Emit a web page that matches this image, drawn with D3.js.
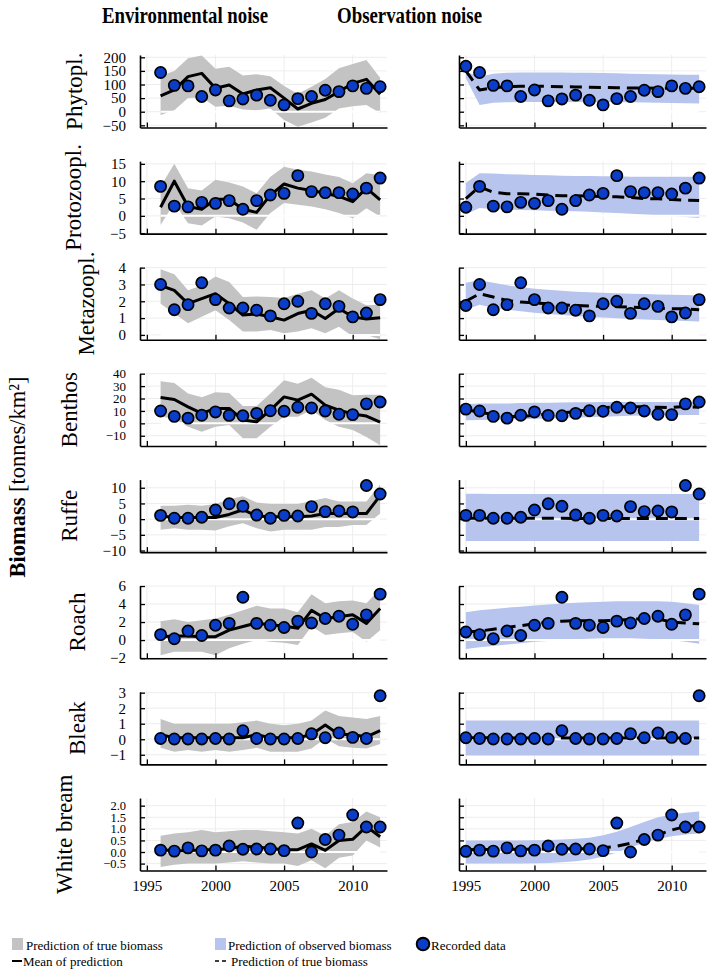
<!DOCTYPE html>
<html>
<head>
<meta charset="utf-8">
<script src="https://cdn.jsdelivr.net/npm/d3@7"></script>
<style>
  body { margin: 0; background: #fff; }
  text { font-family: "Liberation Serif", "Times New Roman", serif; fill: #000; }
</style>
</head>
<body>
<script>
const W = 709, H = 972;

// ---- data ----
const species = ["Phytopl.", "Protozoopl.", "Metazoopl.", "Benthos", "Ruffe", "Roach", "Bleak", "White bream"];
const yearsObs = [1995, 1996, 1997, 1998, 1999, 2000, 2001, 2002, 2003, 2004, 2005, 2006, 2007, 2008, 2009, 2010, 2011, 2012];
const yearsEnv = [1996, 1997, 1998, 1999, 2000, 2001, 2002, 2003, 2004, 2005, 2006, 2007, 2008, 2009, 2010, 2011, 2012];
const xTicks = [1995, 2000, 2005, 2010];

const yDomains = [[-58, 208.5], [-5.13, 15.78], [-0.29, 4.02], [-18.2, 40.2], [-10.5, 12.6], [-2.02, 6.03], [-1.62, 3.05], [-0.8, 2.33]];
const yTicks = [
  [-50, 0, 50, 100, 150, 200],
  [-5, 0, 5, 10, 15],
  [0, 1, 2, 3, 4],
  [-10, 0, 10, 20, 30, 40],
  [-10, -5, 0, 5, 10],
  [-2, 0, 2, 4, 6],
  [-1, 0, 1, 2, 3],
  [-0.5, 0.0, 0.5, 1.0, 1.5, 2.0]
];

// recorded data, 1995-2012
const recorded = [
  [167, 144, 97, 95, 56, 80, 40, 47, 61, 42, 25, 48, 56, 79, 74, 95, 86, 92],
  [2.5, 8.5, 2.8, 2.6, 3.9, 3.6, 4.4, 1.9, 4.4, 6.0, 6.5, 11.6, 7.0, 6.7, 6.7, 6.3, 8.0, 10.9],
  [1.75, 3.0, 1.5, 1.8, 3.1, 2.1, 1.6, 1.6, 1.47, 1.13, 1.85, 2.0, 1.28, 1.85, 1.7, 1.07, 1.3, 2.1],
  [11.5, 10, 5.6, 4.2, 6.5, 9.2, 6.4, 6.1, 8, 10.2, 9.7, 13, 12.4, 10, 7.3, 7, 15.7, 17.2],
  [1.2, 1.2, 0.3, 0.3, 0.6, 2.9, 4.9, 4.1, 1.3, 0.3, 1.2, 1.0, 4.0, 2.4, 2.6, 2.3, 10.7, 8.0],
  [0.9, 0.6, 0.15, 1.0, 0.5, 1.65, 1.85, 4.75, 1.85, 1.65, 1.4, 2.1, 1.9, 2.4, 2.65, 1.75, 2.8, 5.1],
  [0.1, 0.05, 0.02, 0.02, 0.02, 0.05, 0.02, 0.55, 0.05, 0.02, 0.02, 0.05, 0.35, 0.1, 0.4, 0.12, 0.05, 2.8],
  [0.03, 0.08, 0.04, 0.18, 0.05, 0.08, 0.26, 0.12, 0.13, 0.13, 0.06, 1.25, 0.0, 0.54, 0.73, 1.6, 1.08, 1.08]
];

// environmental noise model, 1996-2012
const envMean = [
  [58, 80, 129, 141, 86, 98, 65, 80, 88, 50, 10, 31, 45, 74, 104, 119, 64],
  [2.5, 10, 2.7, 1.9, 4.8, 4.8, 1.9, 1.0, 6.0, 9.2, 8.0, 7.3, 6.5, 5.6, 4.1, 8.0, 4.6],
  [2.94, 2.65, 1.86, 2.16, 2.45, 1.86, 1.18, 1.24, 1.08, 0.88, 1.27, 1.47, 0.98, 1.57, 1.08, 0.94, 1.02],
  [20.8, 19.2, 13.3, 8, 12, 12, 2.7, 1.3, 10.7, 21.3, 18.7, 23.5, 14.7, 10.7, 7.5, 5.9, 1],
  [1.0, 0.5, 0.5, 0.5, 0.5, 1.5, 3.0, 1.0, 0.8, 0.8, 0.8, 1.0, 1.8, 1.8, 1.8, 1.8, 7.5],
  [0.37, 0.45, 0.45, 0.37, 0.37, 1.1, 1.5, 1.9, 1.67, 1.55, 1.3, 3.3, 2.4, 2.6, 2.8, 1.85, 3.5],
  [0.3, 0.1, 0.1, 0.1, 0.1, 0.1, 0.1, 0.3, 0.1, 0.1, 0.1, 0.3, 0.92, 0.3, 0.3, 0.15, 0.55],
  [0.1, 0.05, 0.05, 0.1, 0.1, 0.15, 0.25, 0.22, 0.15, 0.1, 0.1, 0.35, 0.07, 0.5, 0.55, 1.1, 0.66]
];
const envUpper = [
  [132, 150, 197, 207, 158, 165, 133, 138, 130, 95, 66, 92, 120, 160, 175, 190, 125],
  [8.5, 15, 8, 7.3, 10.4, 9.6, 8.5, 6.5, 11.3, 14.2, 13.3, 12.8, 11.9, 11.2, 9.4, 12.3, 11.8],
  [3.9, 3.6, 2.65, 2.94, 3.47, 3.14, 2.25, 2.29, 2.25, 2.2, 2.45, 2.65, 2.16, 2.65, 2.16, 1.76, 1.8],
  [34, 32.5, 24, 21, 25, 24.5, 14, 14, 24, 34.7, 32, 36.8, 29, 27, 22.7, 23, 23],
  [4.3, 4.3, 4.6, 4.3, 4.8, 6.3, 7.3, 5.3, 4.8, 4.8, 4.8, 5.8, 6.7, 5.6, 5.6, 5.6, 11],
  [2.1, 2.3, 2.0, 2.2, 2.4, 2.8, 3.3, 3.8, 3.5, 3.5, 3.1, 5.1, 4.1, 4.3, 4.4, 4.1, 5.7],
  [1.3, 1.0, 1.0, 1.0, 1.0, 1.0, 1.1, 1.2, 1.0, 0.9, 1.0, 1.2, 1.85, 1.5, 1.4, 1.3, 1.5],
  [0.7, 0.8, 0.85, 0.95, 0.85, 0.9, 0.95, 0.95, 0.9, 0.85, 0.8, 1.0, 0.7, 1.2, 1.3, 1.75, 1.5]
];
const envLower = [
  [-12, 5, 50, 52, 18, 22, 8, 5, 12, -30, -55, -40, -22, 12, 20, 25, -5],
  [-2.6, 3.7, -2.1, -2.8, -0.2, -0.7, -1.9, -4.0, 0.8, 3.7, 3.2, 2.7, 1.9, 0.8, -0.7, 2.2, -0.2],
  [1.86, 1.27, 0.69, 1.08, 1.47, 0.88, 0.2, 0.2, 0.29, 0.1, 0.2, 0.39, 0.1, 0.49, -0.1, 0, -0.25],
  [5.3, 4, -2.7, -6.7, -2.7, -1.3, -12, -12, -2.7, 5.3, 5.3, 10.7, 2.7, -2.7, -5.3, -11, -17.6],
  [-3.4, -2.9, -3.4, -3.4, -3.6, -2.3, -1.3, -2.9, -3.9, -3.4, -3.4, -3.4, -2.5, -2.5, -1.9, -1.9, 1.8],
  [-1.7, -1.3, -1.3, -1.3, -1.7, -0.9, -0.4, 0, -0.2, -0.3, -0.55, 1.5, 0.55, 0.75, 0.9, -0.2, 1.1],
  [-0.55, -0.8, -0.7, -0.8, -0.7, -0.8, -0.7, -0.55, -0.8, -0.8, -0.8, -0.6, 0.05, -0.45, -0.55, -0.6, -0.3],
  [-0.65, -0.55, -0.5, -0.5, -0.5, -0.45, -0.4, -0.45, -0.5, -0.5, -0.6, -0.35, -0.7, -0.25, -0.15, 0.5, 0.2]
];

// observation noise model, 1995-2012
const obsPred = [
  [150, 80, 88, 92, 94, 94, 93, 92, 91, 90, 89, 88, 87, 87, 86, 86, 86, 86],
  [5, 8.4, 6.8, 6.4, 6.4, 6.3, 6.0, 5.8, 5.8, 5.7, 5.6, 5.5, 5.3, 5.0, 4.9, 4.7, 4.5, 4.4],
  [2.0, 2.45, 2.25, 2.05, 1.95, 1.9, 1.85, 1.8, 1.75, 1.72, 1.7, 1.68, 1.65, 1.62, 1.6, 1.55, 1.55, 1.5],
  [11, 9, 7, 5.5, 5.5, 6.5, 7.5, 8.5, 9.5, 11, 12.5, 13.3, 13.3, 13.3, 13, 12.8, 13.5, 13],
  [0.3, 0.3, 0.25, 0.25, 0.25, 0.25, 0.25, 0.25, 0.2, 0.2, 0.2, 0.2, 0.2, 0.2, 0.2, 0.2, 0.2, 0.2],
  [0.9, 1.0, 1.2, 1.4, 1.6, 1.8, 2.0, 2.1, 2.15, 2.15, 2.15, 2.2, 2.3, 2.4, 2.35, 2.0, 1.9, 1.8],
  [0.1, 0.1, 0.08, 0.08, 0.08, 0.08, 0.08, 0.08, 0.08, 0.08, 0.08, 0.08, 0.08, 0.08, 0.08, 0.08, 0.08, 0.08],
  [0.1, 0.11, 0.11, 0.12, 0.12, 0.12, 0.13, 0.13, 0.14, 0.15, 0.18, 0.25, 0.38, 0.55, 0.75, 0.95, 1.1, 1.15]
];
const obsUpper = [
  [147, 129, 140, 143, 144, 144, 144, 144, 143, 143, 142, 141, 140, 139, 138, 137, 136, 136],
  [9.5, 12.3, 12.2, 12.0, 11.9, 11.8, 11.7, 11.6, 11.5, 11.5, 11.4, 11.4, 11.3, 11.3, 11.3, 11.3, 11.3, 11.3],
  [3.1, 3.25, 3.1, 2.95, 2.85, 2.75, 2.68, 2.62, 2.57, 2.53, 2.5, 2.47, 2.45, 2.43, 2.41, 2.39, 2.37, 2.35],
  [15.5, 16, 16, 16, 16.3, 16.5, 16.6, 16.8, 17, 17, 17.2, 17.3, 17.3, 17.3, 17.3, 17.3, 17.3, 17.3],
  [8.1, 8.1, 8.0, 8.0, 8.0, 8.0, 8.0, 8.0, 8.0, 8.0, 8.0, 8.0, 8.0, 8.0, 8.0, 8.0, 8.0, 8.0],
  [3.1, 3.3, 3.45, 3.6, 3.7, 3.85, 3.95, 4.05, 4.15, 4.2, 4.25, 4.3, 4.3, 4.3, 4.3, 4.25, 4.1, 3.9],
  [1.2, 1.2, 1.2, 1.2, 1.2, 1.2, 1.2, 1.2, 1.2, 1.2, 1.2, 1.2, 1.2, 1.2, 1.2, 1.2, 1.2, 1.2],
  [0.5, 0.5, 0.5, 0.5, 0.5, 0.51, 0.52, 0.54, 0.57, 0.62, 0.72, 0.88, 1.08, 1.3, 1.5, 1.62, 1.7, 1.75]
];
const obsLower = [
  [123, 25, 33, 35, 36, 36, 36, 36, 36, 36, 36, 35, 35, 34, 33, 32, 31, 30],
  [0.5, 2.3, 2.0, 1.8, 1.7, 1.6, 1.5, 1.4, 1.3, 1.2, 1.0, 0.8, 0.6, 0.4, 0.2, 0, -0.3, -0.6],
  [1.5, 1.8, 1.62, 1.5, 1.4, 1.32, 1.25, 1.18, 1.12, 1.07, 1.03, 0.99, 0.95, 0.92, 0.89, 0.86, 0.83, 0.8],
  [2.5, 2.7, 2.9, 3.1, 3.4, 3.7, 4, 4.3, 4.7, 5, 5.4, 5.8, 6.1, 6.3, 6.5, 6.6, 6.7, 6.7],
  [-7.0, -7.0, -7.0, -7.0, -7.0, -7.0, -7.0, -7.0, -7.0, -7.0, -7.0, -7.0, -7.0, -7.0, -7.0, -7.0, -7.0, -7.0],
  [-1.0, -0.8, -0.65, -0.5, -0.35, -0.2, -0.1, 0.0, 0.1, 0.15, 0.2, 0.2, 0.2, 0.15, 0.1, 0.0, -0.2, -0.4],
  [-1.05, -1.05, -1.05, -1.05, -1.05, -1.05, -1.05, -1.05, -1.05, -1.05, -1.05, -1.05, -1.05, -1.05, -1.05, -1.05, -1.05, -1.05],
  [-0.5, -0.5, -0.5, -0.5, -0.5, -0.49, -0.47, -0.44, -0.4, -0.32, -0.2, -0.02, 0.2, 0.4, 0.56, 0.68, 0.76, 0.8]
];

// ---- layout ----
const colX = [[140, 387], [459, 706]];
const TOP0 = 55, STEP = 106.15, PH = 72.5;
const labelX = [82, 81, 94, 77, 77, 85, 85, 72];
const tickFont = [15, 15, 15, 13, 15, 15, 15, 12.5];
const GRAY = "#c3c3c3", BLUE = "#b7c5ee", DOT = "#0b3ec8";

const svg = d3.select("body").append("svg")
  .attr("width", W).attr("height", H)
  .style("background", "#fff");

svg.append("text").attr("x", 102).attr("y", 23)
  .attr("font-size", 24).attr("font-weight", "bold")
  .attr("textLength", 166).attr("lengthAdjust", "spacingAndGlyphs")
  .text("Environmental noise");
svg.append("text").attr("x", 337).attr("y", 23)
  .attr("font-size", 24).attr("font-weight", "bold")
  .attr("textLength", 145).attr("lengthAdjust", "spacingAndGlyphs")
  .text("Observation noise");

const bigLabel = svg.append("text")
  .attr("transform", "translate(25,477) rotate(-90)")
  .attr("text-anchor", "middle").attr("font-size", 22.5);
bigLabel.append("tspan").attr("font-weight", "bold").text("Biomass ");
bigLabel.append("tspan").text("[tonnes/km²]");

species.forEach((name, i) => {
  const top = TOP0 + i * STEP, bottom = top + PH;
  const y = d3.scaleLinear().domain(yDomains[i]).range([bottom, top]);
  const fmt = i === 7 ? d3.format(".1f") : d3.format("d");

  svg.append("text")
    .attr("transform", `translate(${labelX[i]},${top + PH / 2}) rotate(-90)`)
    .attr("text-anchor", "middle").attr("font-size", 23)
    .text(name);

  [0, 1].forEach(c => {
    const [x0, x1] = colX[c];
    const x = d3.scaleLinear().domain([1994.5, 2012.5]).range([x0, x1]);
    const g = svg.append("g");
    const clipId = `clip-${i}-${c}`;
    g.append("clipPath").attr("id", clipId)
      .append("rect").attr("x", x0).attr("y", top).attr("width", x1 - x0).attr("height", PH);

    // grid
    g.selectAll("line.gx").data(xTicks).enter().append("line")
      .attr("x1", d => x(d)).attr("x2", d => x(d)).attr("y1", top).attr("y2", bottom)
      .attr("stroke", "#ebebeb").attr("stroke-width", 0.9);
    g.selectAll("line.gy").data(yTicks[i]).enter().append("line")
      .attr("x1", x0).attr("x2", x1).attr("y1", d => y(d)).attr("y2", d => y(d))
      .attr("stroke", "#ebebeb").attr("stroke-width", 0.9);

    const years = c === 0 ? yearsEnv : yearsObs;
    const up = c === 0 ? envUpper[i] : obsUpper[i];
    const lo = c === 0 ? envLower[i] : obsLower[i];
    const mid = c === 0 ? envMean[i] : obsPred[i];
    const obs = c === 0 ? recorded[i].slice(1) : recorded[i];
    const rows = years.map((yr, k) => ({ yr, up: up[k], lo: lo[k], mid: mid[k], obs: obs[k] }));

    const plot = g.append("g").attr("clip-path", `url(#${clipId})`);
    plot.append("path").datum(rows)
      .attr("d", d3.area().x(d => x(d.yr)).y0(d => y(d.lo)).y1(d => y(d.up)))
      .attr("fill", c === 0 ? GRAY : BLUE);

    // zero line
    plot.append("line")
      .attr("x1", x(years[0])).attr("x2", x(years[years.length - 1]))
      .attr("y1", y(0)).attr("y2", y(0))
      .attr("stroke", "#fff").attr("stroke-width", 2);

    plot.append("path").datum(rows)
      .attr("d", d3.line().x(d => x(d.yr)).y(d => y(d.mid)))
      .attr("fill", "none").attr("stroke", "#000").attr("stroke-width", 3)
      .attr("stroke-linejoin", "round")
      .attr("stroke-dasharray", c === 1 ? "12,7" : null);

    // axes
    const ax = g.append("g").attr("transform", `translate(${x0},0)`)
      .call(d3.axisLeft(y).tickValues(yTicks[i]).tickSizeInner(-5).tickSizeOuter(0)
        .tickPadding(14).tickFormat(c === 0 ? fmt : () => ""));
    const bx = g.append("g").attr("transform", `translate(0,${bottom})`)
      .call(d3.axisBottom(x).tickValues(xTicks).tickSizeInner(-5).tickSizeOuter(0)
        .tickPadding(10).tickFormat(i === 7 ? d3.format("d") : () => ""));
    [ax, bx].forEach(a => {
      a.select(".domain").attr("stroke", "#000").attr("stroke-width", 1.6);
      a.selectAll(".tick line").attr("stroke", "#000").attr("stroke-width", 1.3);
    });
    ax.selectAll("text").attr("font-size", tickFont[i]);
    bx.selectAll("text").attr("font-size", 15);

    g.selectAll("circle.dot").data(rows).enter().append("circle")
      .attr("cx", d => x(d.yr)).attr("cy", d => y(d.obs)).attr("r", 5.6)
      .attr("fill", DOT).attr("stroke", "#000").attr("stroke-width", 1.7);
  });
});

// ---- legend ----
const lg = svg.append("g");
lg.append("rect").attr("x", 12).attr("y", 938).attr("width", 11).attr("height", 12).attr("fill", GRAY);
lg.append("text").attr("x", 26).attr("y", 950).attr("font-size", 13).text("Prediction of true biomass");
lg.append("line").attr("x1", 12).attr("x2", 22).attr("y1", 961).attr("y2", 961)
  .attr("stroke", "#000").attr("stroke-width", 2);
lg.append("text").attr("x", 23).attr("y", 966).attr("font-size", 13).text("Mean of prediction");
lg.append("rect").attr("x", 215).attr("y", 938).attr("width", 11).attr("height", 12).attr("fill", BLUE);
lg.append("text").attr("x", 228).attr("y", 950).attr("font-size", 13).text("Prediction of observed biomass");
lg.append("line").attr("x1", 215).attr("x2", 227).attr("y1", 961).attr("y2", 961)
  .attr("stroke", "#000").attr("stroke-width", 1.5).attr("stroke-dasharray", "4,3");
lg.append("text").attr("x", 231).attr("y", 966).attr("font-size", 13).text("Prediction of true biomass");
lg.append("circle").attr("cx", 423).attr("cy", 944).attr("r", 6.3)
  .attr("fill", DOT).attr("stroke", "#000").attr("stroke-width", 2);
lg.append("text").attr("x", 431).attr("y", 950).attr("font-size", 13).text("Recorded data");
</script>
</body>
</html>
